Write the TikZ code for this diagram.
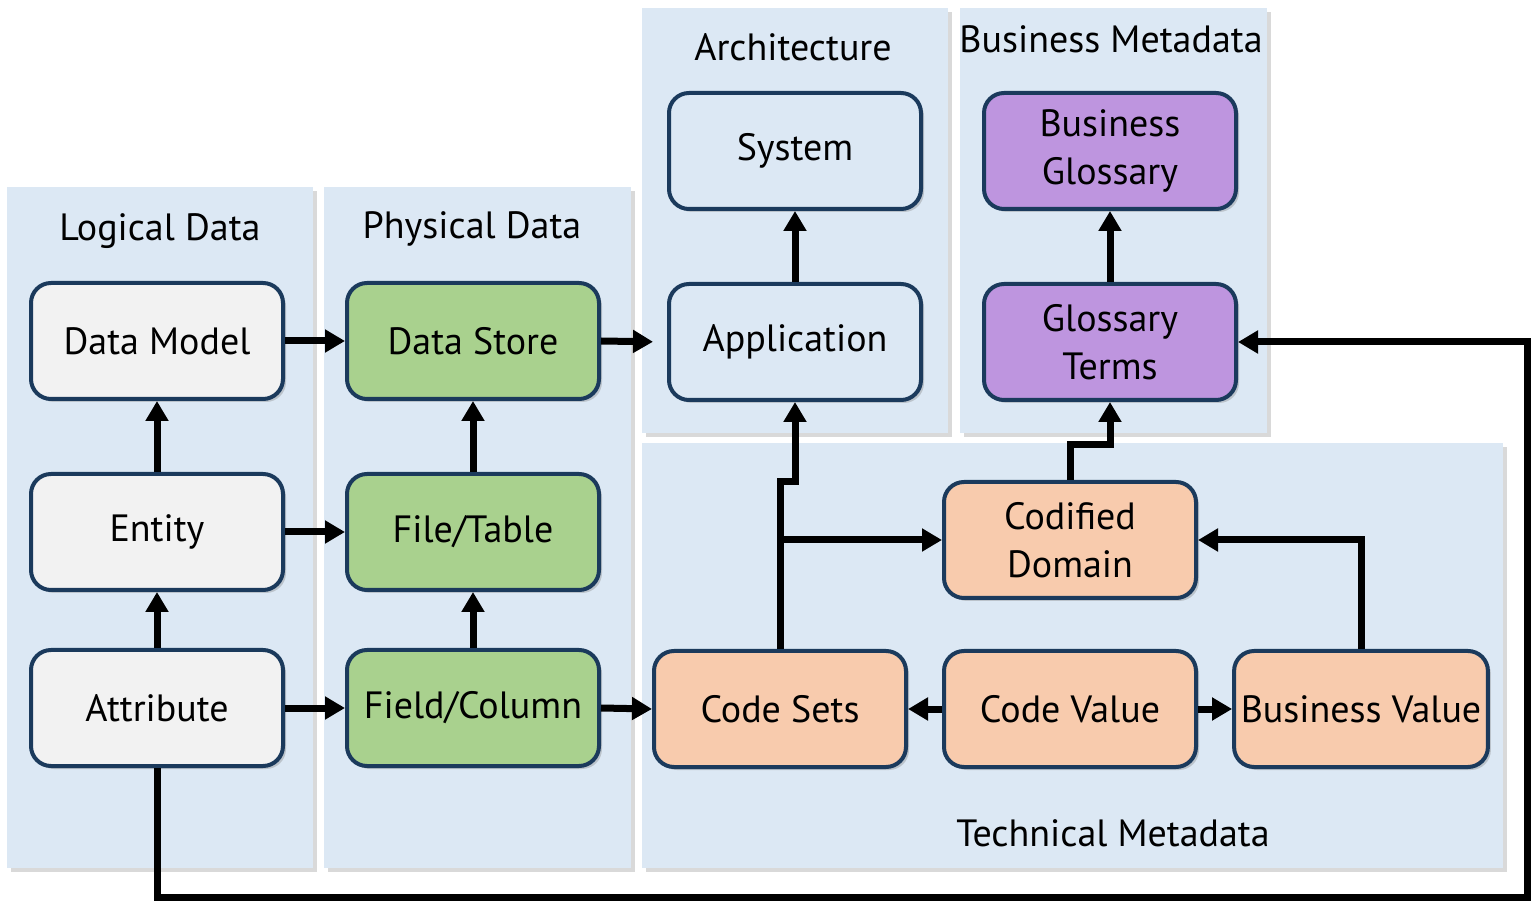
\documentclass[tikz,border=0pt]{standalone}
\usepackage{fontspec}
\setmainfont{PT Sans}
\usetikzlibrary{arrows.meta,shadows}

\definecolor{panelblue}{HTML}{DCE8F4}
\definecolor{boxline}{HTML}{1B3A5C}
\definecolor{logicgray}{HTML}{F2F2F2}
\definecolor{physgreen}{HTML}{A9D18E}
\definecolor{archblue}{HTML}{DCE8F4}
\definecolor{bizpurple}{HTML}{BE95DF}
\definecolor{techpeach}{HTML}{F8CBAD}

\begin{document}
\begin{tikzpicture}[x=0.5pt,y=-0.5pt,
    panel/.style={fill=panelblue, drop shadow={shadow xshift=2pt, shadow yshift=-2pt, opacity=0.3}},
    box/.style={draw=boxline, line width=2pt, rounded corners=10pt,
        minimum width=126pt, minimum height=58pt, align=center,
        font=\fontsize{19}{24}\selectfont,
        drop shadow={shadow xshift=1.5pt, shadow yshift=-1.5pt, opacity=0.35}},
    title/.style={font=\fontsize{19}{24}\selectfont},
    link/.style={line width=3.5pt, -{Triangle[length=10pt,width=11pt]}}]

    \useasboundingbox (0,0) rectangle (1538,919);

    % Panels
    \fill[panel] (7,187) rectangle (313,868);
    \fill[panel] (324,187) rectangle (631,868);
    \fill[panel] (642,8) rectangle (948,433);
    \fill[panel] (960,8) rectangle (1267,433);
    \fill[panel] (642,443) rectangle (1503,868);

    % Panel titles
    \node[title] (logtitle) at (160,231) {Logical Data};
    \node[title] (phystitle) at (472,229) {Physical Data};
    \node[title] (archtitle) at (793,47) {Architecture};
    \node[title] (biztitle) at (1111,39) {Business Metadata};
    \node[title] (techtitle) at (1113,833) {Technical Metadata};

    % Logical data
    \node[box, fill=logicgray] (dm) at (157,341) {Data Model};
    \node[box, fill=logicgray] (ent) at (157,532) {Entity};
    \node[box, fill=logicgray] (attr) at (157,708) {Attribute};

    % Physical data
    \node[box, fill=physgreen] (ds) at (473,341) {Data Store};
    \node[box, fill=physgreen] (ft) at (473,532) {File/Table};
    \node[box, fill=physgreen] (fc) at (473,708) {Field/Column};

    % Architecture
    \node[box, fill=archblue] (sys) at (795,151) {System};
    \node[box, fill=archblue] (app) at (795,342) {Application};

    % Business metadata
    \node[box, fill=bizpurple] (bg) at (1110,151) {Business\\Glossary};
    \node[box, fill=bizpurple] (gt) at (1110,342) {Glossary\\Terms};

    % Technical metadata
    \node[box, fill=techpeach] (cd) at (1070,540) {Codified\\Domain};
    \node[box, fill=techpeach] (cs) at (780,709) {Code Sets};
    \node[box, fill=techpeach] (cv) at (1070,709) {Code Value};
    \node[box, fill=techpeach] (bv) at (1361,709) {Business Value};

    % Arrows
    \draw[link] (dm) -- (ds);
    \draw[link] (ent) -- (ft);
    \draw[link] (attr) -- (fc);
    \draw[link] (ent) -- (dm);
    \draw[link] (attr) -- (ent);
    \draw[link] (ft) -- (ds);
    \draw[link] (fc) -- (ft);
    \draw[link, shorten >=7pt] (ds.east) -- (app.west);
    \draw[link] (fc.east) -- (cs.west);
    \draw[link] (app) -- (sys);
    \draw[link] (gt) -- (bg);
    \draw[link] (cs.north) -- ++(0,-167) -| (app.south);
    \draw[link] (cs.north |- cd.west) -- (cd.west);
    \draw[link] (cd.north) -- ++(0,-35) -| (gt.south);
    \draw[link] (bv.north) |- (cd.east);
    \draw[link] (cv) -- (cs);
    \draw[link] (cv) -- (bv);
    \coordinate (loopcorner) at (1527,897);
    \draw[link] (attr.south) |- (loopcorner) |- (gt.east);
\end{tikzpicture}
\end{document}
